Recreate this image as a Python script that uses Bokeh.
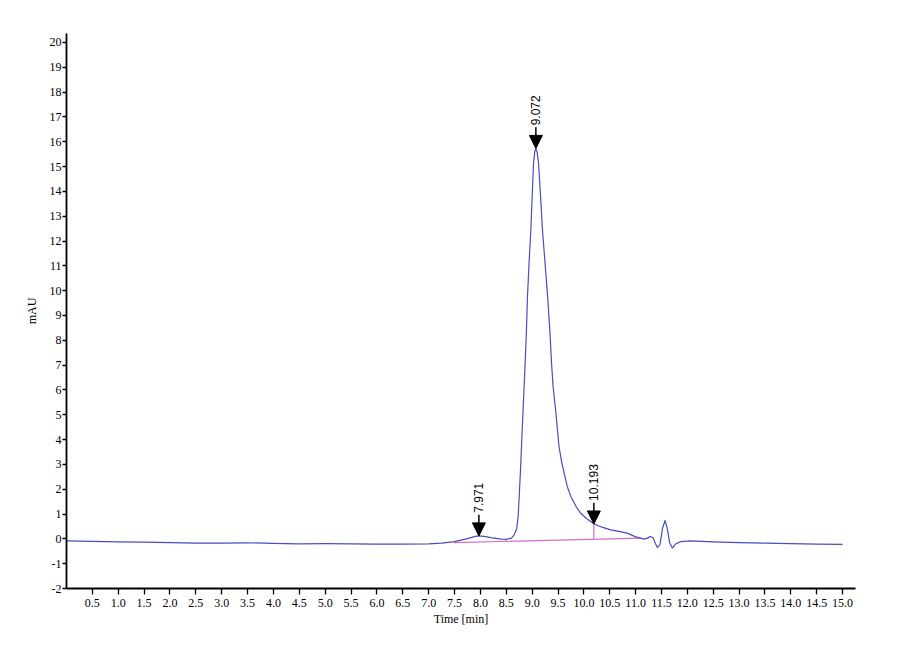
import numpy as np
from bokeh.plotting import figure
from bokeh.models import Range1d, FixedTicker, Arrow, NormalHead, ColumnDataSource, NumeralTickFormatter
from bokeh.core.properties import value
from bokeh.embed import file_html
from bokeh.resources import INLINE

# Chromatogram trace (time in min, signal in mAU)
time_min = [0.0, 0.5, 1.0, 1.5, 2.0, 2.5, 3.0, 3.5, 4.0, 4.5, 5.0, 5.5, 6.0, 6.5,
            7.0, 7.25, 7.5, 7.75, 7.9, 7.97, 8.1, 8.2, 8.3, 8.4, 8.5, 8.6, 8.65,
            8.7, 8.73, 8.75, 8.78, 8.81, 8.845, 8.865, 8.89, 8.91, 8.94, 8.975, 9.0,
            9.027, 9.05, 9.072, 9.095, 9.124, 9.16, 9.2, 9.25, 9.3, 9.345,
            9.375, 9.405, 9.46, 9.52, 9.57, 9.62, 9.68, 9.75, 9.85, 9.94, 10.05,
            10.2, 10.35, 10.52, 10.7, 10.84, 11.0, 11.1, 11.16, 11.22, 11.29,
            11.34, 11.38, 11.42, 11.47, 11.52, 11.57, 11.61, 11.66, 11.71, 11.77,
            11.87, 12.06, 12.5, 13.0, 13.5, 14.0, 14.5, 15.0]
signal_mau = [-0.08, -0.10, -0.12, -0.13, -0.15, -0.17, -0.17, -0.16, -0.18, -0.20,
              -0.19, -0.20, -0.21, -0.21, -0.20, -0.17, -0.11, 0.01, 0.10, 0.12,
              0.09, 0.05, 0.02, -0.01, -0.02, 0.03, 0.15, 0.40, 0.90, 1.70, 3.00,
              4.50, 6.13, 7.08, 8.40, 9.75, 11.10, 12.43, 13.76, 15.13, 15.60, 15.73,
              15.60, 15.13, 13.90, 12.43, 11.10, 9.75, 8.29, 7.08, 6.13, 5.06,
              3.71, 3.10, 2.64, 2.10, 1.70, 1.30, 1.03, 0.82, 0.60, 0.47, 0.36,
              0.29, 0.23, 0.08, 0.03, -0.01, 0.02, 0.10,
              0.03, -0.18, -0.35, -0.24, 0.43, 0.74, 0.43, -0.17, -0.37, -0.21,
              -0.11, -0.08, -0.12, -0.15, -0.17, -0.19, -0.21, -0.22]

# Integrated peaks
peak_times = [7.971, 9.072, 10.193]
peak_heights = [0.12, 15.73, 0.60]
peak_labels = ["7.971", "9.072", "10.193"]

# Integration baseline and drop lines
base_x = [7.49, 11.1]
base_y = [-0.15, 0.03]
drop_x = [8.5, 10.193]
drop_top = [-0.02, 0.60]

x_ticks = [0.5 * i for i in range(1, 31)]
y_ticks = list(range(-2, 21))

p = figure(width=888, height=648, output_backend="svg", toolbar_location=None,
           x_range=Range1d(0, 15.25), y_range=Range1d(-2, 20.36),
           min_border_left=66, min_border_right=33, min_border_top=33, min_border_bottom=60)
p.outline_line_color = None
p.xgrid.visible = False
p.ygrid.visible = False
p.background_fill_color = "white"

for ax in (p.xaxis[0], p.yaxis[0]):
    ax.axis_line_color = "black"
    ax.axis_line_width = 1.8
    ax.major_tick_line_color = "black"
    ax.major_tick_line_width = 1.3
    ax.minor_tick_line_color = None
    ax.major_label_text_font = "Liberation Serif"
    ax.major_label_text_font_size = "12px"
    ax.major_label_text_color = "black"
    ax.axis_label_text_font = "Liberation Serif"
    ax.axis_label_text_font_style = "normal"
    ax.axis_label_text_font_size = "12px"
    ax.axis_label_text_color = "black"

p.xaxis.ticker = FixedTicker(ticks=x_ticks)
p.xaxis.formatter = NumeralTickFormatter(format="0.0")
p.xaxis.major_tick_in = 0
p.xaxis.major_tick_out = 6
p.xaxis.major_label_standoff = 4
p.xaxis.axis_label = "Time [min]"
p.xaxis.axis_label_standoff = 2

p.yaxis.ticker = FixedTicker(ticks=y_ticks)
p.yaxis.major_label_overrides = {t: str(t) for t in y_ticks}
p.yaxis.major_tick_in = 0
p.yaxis.major_tick_out = 4
p.yaxis.major_label_standoff = 1
p.yaxis.axis_label = "mAU"
p.yaxis.axis_label_standoff = 8

# baseline and drop lines
base_interp = np.interp(drop_x, base_x, base_y)
p.line(base_x, base_y, line_color="#d070c8", line_width=1.2)
p.segment(x0=drop_x, y0=list(base_interp), x1=drop_x, y1=drop_top,
          line_color="#d070c8", line_width=1.2)

# trace
p.line(time_min, signal_mau, line_color="#4b4bc4", line_width=1.2, line_join="round")

# peak markers
stem = 0.85
for t, h in zip(peak_times, peak_heights):
    p.add_layout(Arrow(end=NormalHead(size=13, fill_color="black", line_color="black"),
                       x_start=t, y_start=h + stem, x_end=t, y_end=h,
                       line_color="black", line_width=1.5))

src = ColumnDataSource(dict(x=peak_times, y=[h + stem + 0.08 for h in peak_heights], t=peak_labels))
p.text(x="x", y="y", text="t", source=src, angle=np.pi / 2, text_align="left",
       text_baseline="middle", text_font=value("Liberation Sans"),
       text_font_size="12px", text_color="black")

open("out.html", "w").write(file_html(p, INLINE))
